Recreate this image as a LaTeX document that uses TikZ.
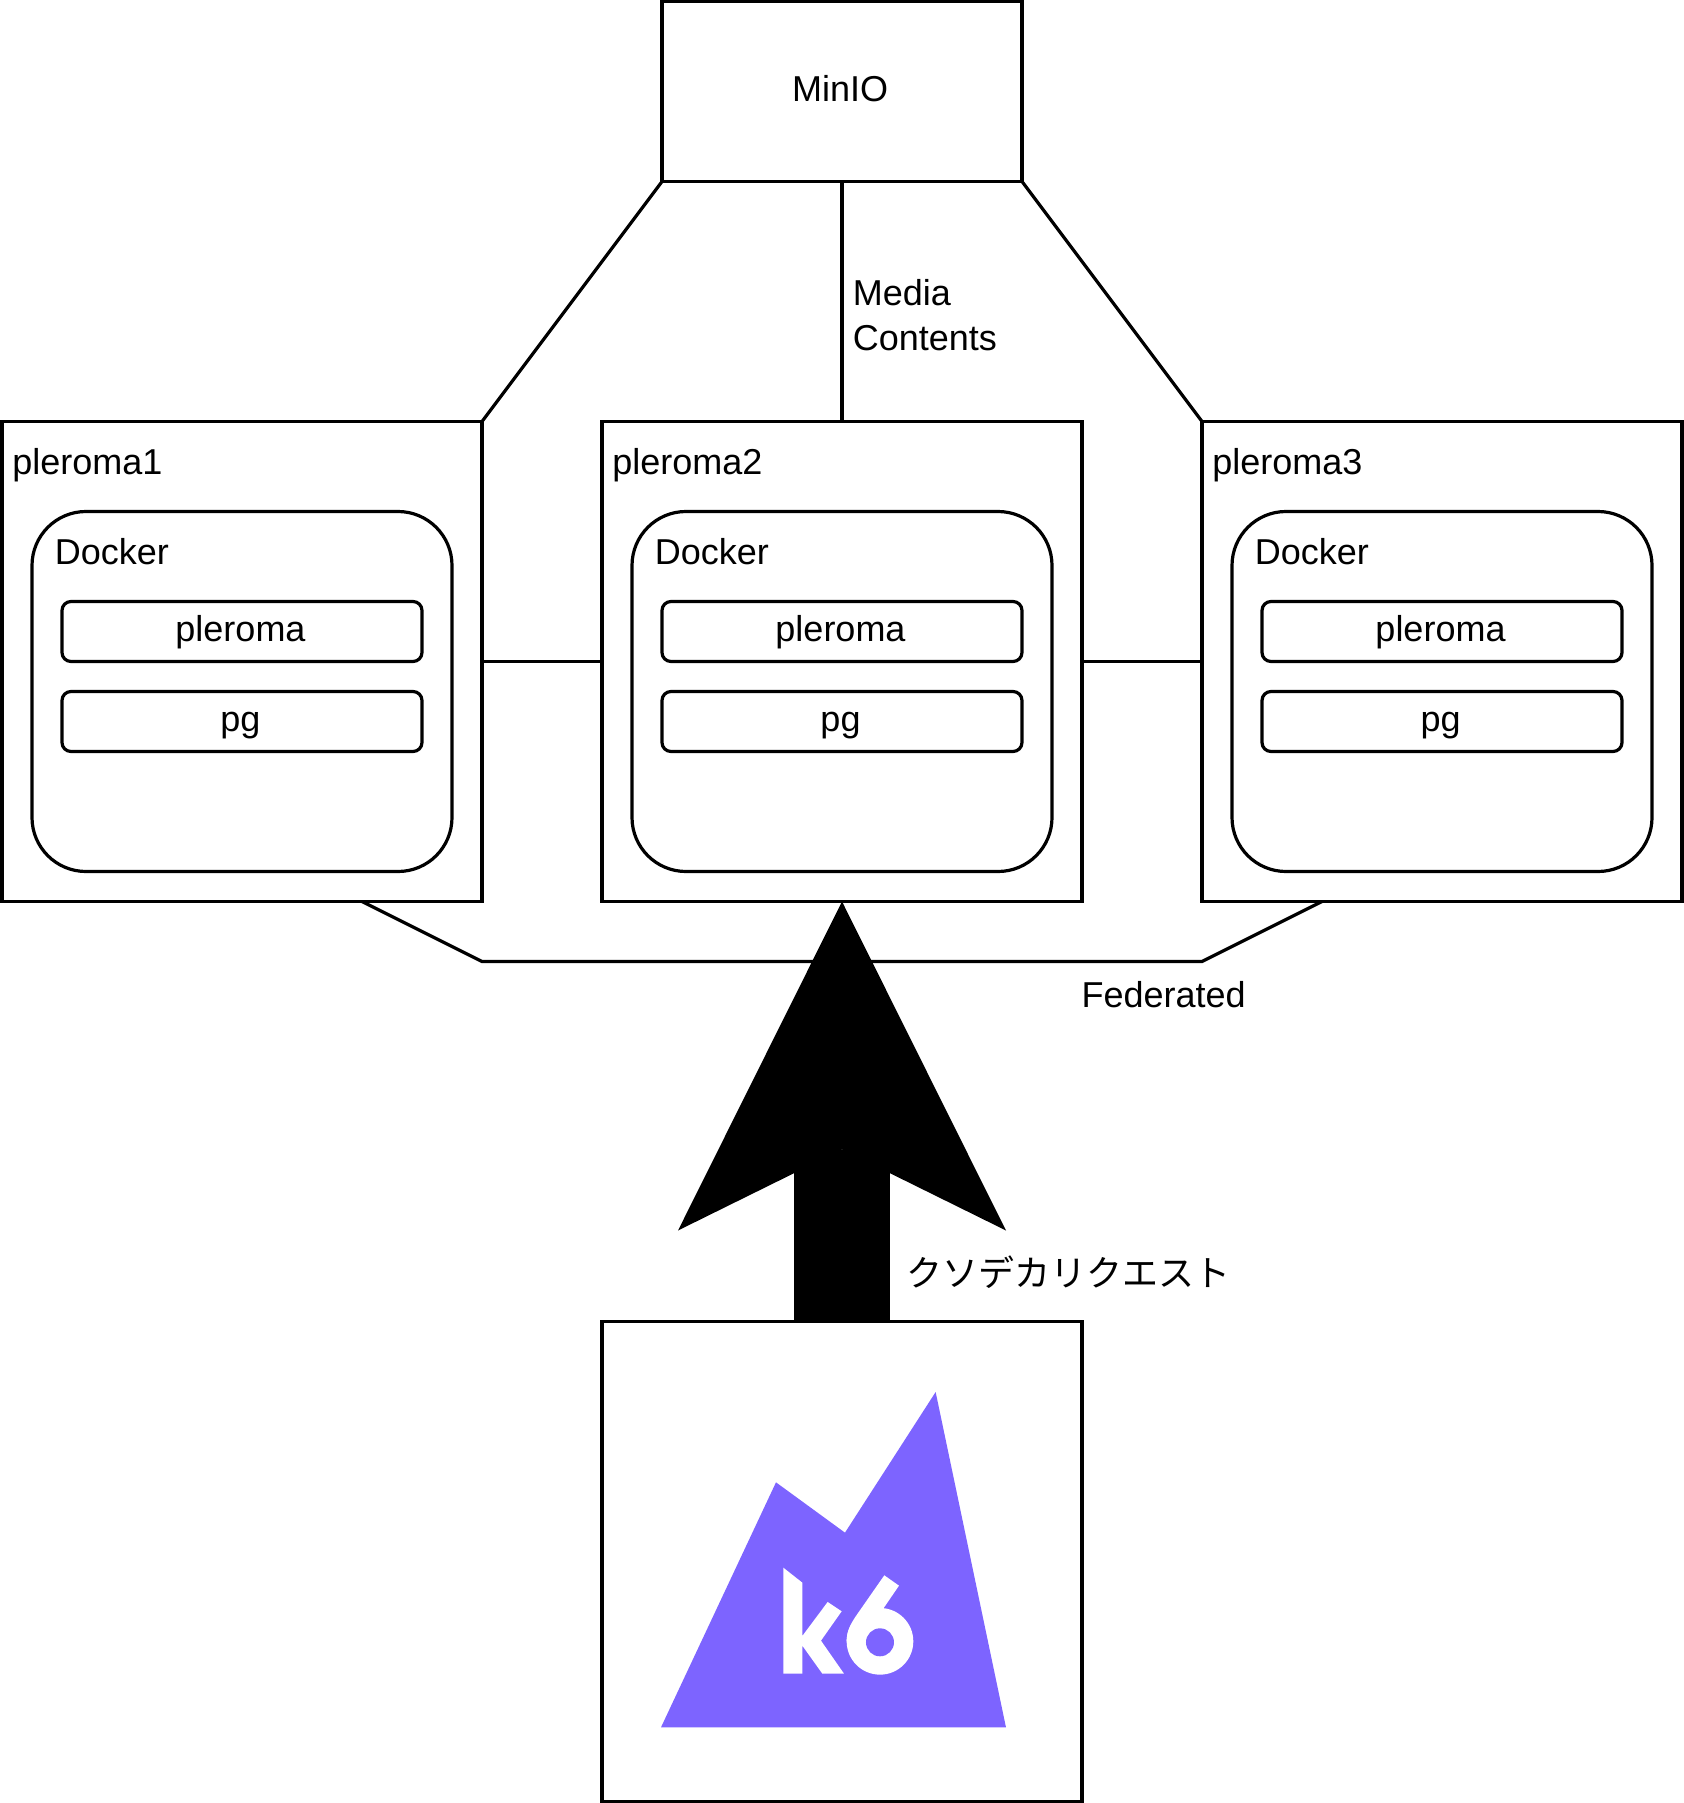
\documentclass[tikz,border=0pt]{standalone}
\usepackage{fontspec}
\usepackage{tikz}
\usetikzlibrary{arrows.meta}
\setmainfont{Liberation Sans}
\newfontfamily\cjk{Noto Sans CJK JP}
\definecolor{ksix}{HTML}{7D64FF}
\tikzset{
  box/.style={draw, rectangle, outer sep=0pt, inner sep=0pt},
  dockerbox/.style={box, minimum width=420pt, minimum height=360pt, rounded corners=54pt},
  appbox/.style={box, minimum width=360pt, minimum height=60pt, rounded corners=9pt},
  serverbox/.style={box, minimum width=480pt, minimum height=480pt},
  label/.style={inner sep=0pt, anchor=base west, align=left},
  applabel/.style={inner sep=0pt, anchor=base}
}

\begin{document}
\begin{tikzpicture}[x=3pt, y=-3pt, line width=3.2pt, font=\fontsize{36}{45}\selectfont]
\useasboundingbox (-2pt,1.5pt) rectangle (1681pt,-1801.5pt);
\draw (280,30) node[box, minimum width=360pt, minimum height=180pt](minio){}
    (80,220) node[serverbox](p1){}
    (280,220) node[serverbox](p2){}
    (480,220) node[serverbox](p3){}
    (280,520) node[serverbox](ksix){}
    (80,230) node[dockerbox](d1){}
    (280,230) node[dockerbox](d2){}
    (480,230) node[dockerbox](d3){}
    (80,210) node[appbox](a1){}
    (80,240) node[appbox](b1){}
    (280,210) node[appbox](a2){}
    (280,240) node[appbox](b2){}
    (480,210) node[appbox](a3){}
    (480,240) node[appbox](b3){};
\coordinate (f1) at (120,300);
\coordinate (f2) at (160,320);
\coordinate (f3) at (400,320);
\coordinate (f4) at (440,300);
% texts
\node[applabel] (tminio) at (279.4,33.4) {MinIO};
\node[label] (t1) at (2.9,157.6) {pleroma1};
\node[label] (t2) at (202.9,157.6) {pleroma2};
\node[label] (t3) at (402.9,157.6) {pleroma3};
\node[label] (td1) at (17.1,187.6) {Docker};
\node[label] (td2) at (217.1,187.6) {Docker};
\node[label] (td3) at (417.1,187.6) {Docker};
\node[applabel] (ta1) at (79.5,213.2) {pleroma};
\node[applabel] (tb1) at (79.5,243.2) {pg};
\node[applabel] (ta2) at (279.5,213.2) {pleroma};
\node[applabel] (tb2) at (279.5,243.2) {pg};
\node[applabel] (ta3) at (479.5,213.2) {pleroma};
\node[applabel] (tb3) at (479.5,243.2) {pg};
\node[label] (tmedia) at (283.1,116.2) {Media\\Contents};
\node[label] (tfed) at (359.3,335.4) {Federated};
\node[label] (treq) at (300.9,428.4) {\cjk クソデカリクエスト};
% connectors
\draw [-] (minio.south west) -- (p1.north east);
\draw [-] (minio.south) -- (p2.north);
\draw [-] (minio.south east) -- (p3.north west);
\draw [-] (p1.east) -- (p2.west);
\draw [-] (p2.east) -- (p3.west);
\draw [-] (f1) -- (f2) -- (f3) -- (f4);
\draw [-{Stealth[length=329pt,width=328pt,inset=81pt,line width=0pt]}, line width=96pt] (ksix.north) -- (p2.south);
% k6 logo
\begin{scope}[shift={(619pt,-1358.5pt)}, x=.3333pt, y=-.3333pt]
\fill[ksix] (120,1102) -- (465,367) -- (672,518) -- (944,96) -- (1155,1102) -- cycle;
\fill[white] (487,623) -- (544,668) -- (544,828) -- (620,726) -- (662,754) -- (600,842)
    -- (669,941) -- (604,941) -- (544,857) -- (544,941) -- (487,941) -- cycle;
\fill[white] (777,844) circle[radius=100];
\fill[white] (790,646) -- (834,677) -- (780,756) -- (700,850) -- (677,844)
    .. controls (677,815) and (688,793) .. (705,768) -- cycle;
\fill[ksix] (777,847) circle[radius=42];
\end{scope}
\end{tikzpicture}
\end{document}
